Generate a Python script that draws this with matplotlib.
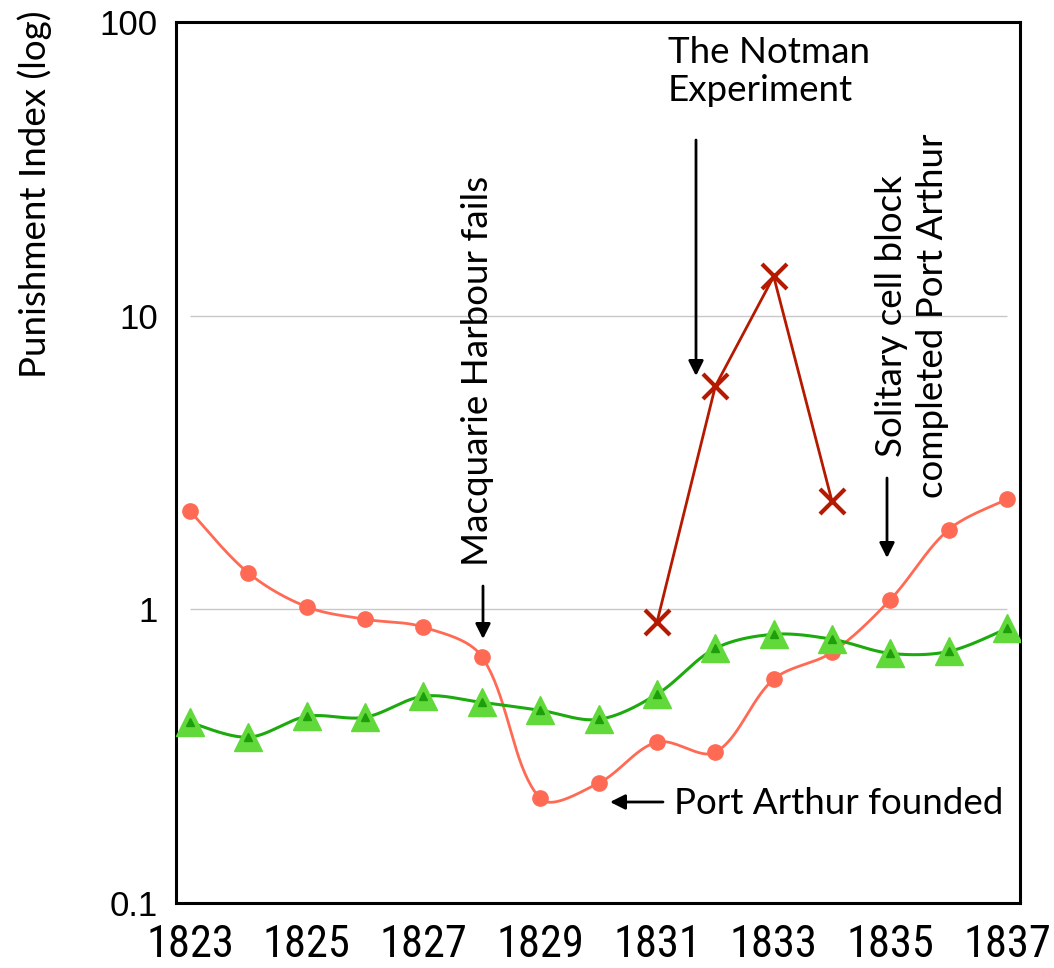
import numpy as np
import matplotlib
matplotlib.use("Agg")
import matplotlib.pyplot as plt
from matplotlib import font_manager

# ---------------- data ----------------
years = [1823, 1824, 1825, 1826, 1827, 1828, 1829, 1830, 1831, 1832, 1833, 1834, 1835, 1836, 1837]
orange_vals = [2.16, 1.33, 1.02, 0.925, 0.87, 0.69, 0.227, 0.256, 0.353, 0.326, 0.578, 0.714, 1.08, 1.87, 2.37]
green_vals = [0.412, 0.367, 0.432, 0.429, 0.506, 0.482, 0.453, 0.422, 0.514, 0.736, 0.822, 0.791, 0.708, 0.719, 0.861]
notman_years = [1831, 1832, 1833, 1834]
notman_vals = [0.903, 5.75, 13.6, 2.33]
xtick_years = [1823, 1825, 1827, 1829, 1831, 1833, 1835, 1837]
ytick_vals = [0.1, 1, 10, 100]
ytick_labels = ["0.1", "1", "10", "100"]
grid_vals = [1, 10]

ORANGE = "#FF6A55"
GREEN_LINE = "#1DAA0E"
GREEN_FILL = "#62D93B"
GREEN_INNER = "#1E9E0B"
RED = "#B51A00"

ANN_FONT = ["Lato", "DejaVu Sans"]
YTICK_FONT = ["Liberation Sans", "DejaVu Sans"]


def has_font(name):
    try:
        font_manager.findfont(font_manager.FontProperties(family=name),
                              fallback_to_default=False)
        return True
    except Exception:
        return False


if has_font("Liberation Sans Narrow"):
    XTICK_FONT, XTICK_SIZE = ["Liberation Sans Narrow", "DejaVu Sans"], 32
elif has_font("Roboto Condensed"):
    XTICK_FONT, XTICK_SIZE = ["Roboto Condensed", "DejaVu Sans"], 32
else:
    XTICK_FONT, XTICK_SIZE = ["Liberation Sans", "DejaVu Sans"], 26.5

PX_PER_YEAR = 58.36
PX_PER_DECADE = 293.67


def smooth(xs, ys, n=40):
    """Excel-like smoothed line (Bezier with chord-length scaled control points),
    computed in screen-proportional space; rendering only."""
    P = np.column_stack([np.asarray(xs, float) * PX_PER_YEAR,
                         np.log10(np.asarray(ys, float)) * PX_PER_DECADE])
    N = len(P)
    cin = P.copy()
    cout = P.copy()
    for i in range(N):
        if i == 0:
            cout[i] = P[0] + (P[1] - P[0]) / 6.0
        elif i == N - 1:
            cin[i] = P[-1] - (P[-1] - P[-2]) / 6.0
        else:
            d = P[i + 1] - P[i - 1]
            ll = np.hypot(*(P[i] - P[i - 1]))
            lr = np.hypot(*(P[i + 1] - P[i]))
            cout[i] = P[i] + d / 3.0 * lr / (ll + lr)
            cin[i] = P[i] - d / 3.0 * ll / (ll + lr)
    pts = []
    for i in range(N - 1):
        t = np.linspace(0, 1, n, endpoint=(i == N - 2))[:, None]
        b = ((1 - t) ** 3 * P[i] + 3 * (1 - t) ** 2 * t * cout[i]
             + 3 * (1 - t) * t ** 2 * cin[i + 1] + t ** 3 * P[i + 1])
        pts.append(b)
    pts = np.vstack(pts)
    return pts[:, 0] / PX_PER_YEAR, 10 ** (pts[:, 1] / PX_PER_DECADE)


W, H = 1054, 968
fig = plt.figure(figsize=(W / 100, H / 100), dpi=100)
L, R, T, B = 176, 1020, 22, 903
ax = fig.add_axes([L / W, 1 - B / H, (R - L) / W, (B - T) / H])
ax.set_yscale("log")
ax.set_xlim(1822.76, 1837.22)
ax.set_ylim(0.1, 100)

# gridlines
ax.hlines(grid_vals, years[0], years[-1], colors="#c8c8c8", linewidth=1.0, zorder=1)

# orange series
sx, sy = smooth(years, orange_vals)
ax.plot(sx, sy, color=ORANGE, linewidth=2.0, zorder=3)
ax.plot(years, orange_vals, linestyle="none", marker="o", markersize=11,
        markerfacecolor=ORANGE, markeredgecolor=ORANGE, zorder=4)

# green series
gx, gy = smooth(years, green_vals)
ax.plot(gx, gy, color=GREEN_LINE, linewidth=2.2, zorder=3)
ax.plot(years, green_vals, linestyle="none", marker="^", markersize=19.5,
        markerfacecolor=GREEN_FILL, markeredgecolor=GREEN_FILL, zorder=5)
ax.plot(years, green_vals, linestyle="none", marker="^", markersize=6,
        markerfacecolor=GREEN_INNER, markeredgecolor=GREEN_INNER, zorder=6)

# Notman series
ax.plot(notman_years, notman_vals, color=RED, linewidth=2.0, marker="x",
        markersize=18, markeredgewidth=3.0, zorder=5)

# axes styling
for s in ax.spines.values():
    s.set_linewidth(2.2)
    s.set_color("black")
ax.set_xticks(xtick_years)
ax.set_xticklabels([str(y) for y in xtick_years])
ax.set_yticks(ytick_vals)
ax.set_yticklabels(ytick_labels)
ax.yaxis.set_minor_locator(matplotlib.ticker.NullLocator())
ax.tick_params(axis="both", length=0)
ax.tick_params(axis="x", pad=15)
ax.tick_params(axis="y", pad=13)
for lab in ax.get_xticklabels():
    lab.set_fontfamily(XTICK_FONT)
    lab.set_fontsize(XTICK_SIZE)
for lab in ax.get_yticklabels():
    lab.set_fontfamily(YTICK_FONT)
    lab.set_fontsize(25)


def px(x, y):
    return (x / W, 1 - y / H)


fig.text(*px(35, 194), "Punishment Index (log)", rotation=90, ha="center", va="center",
         fontsize=26.5, family=ANN_FONT)

# annotations
arrow_kw = dict(arrowstyle="-|>,head_length=0.9,head_width=0.45", color="black", lw=2.0,
                shrinkA=0, shrinkB=0)


def arrow(x0, y0, x1, y1):
    ax.annotate("", xy=px(x1, y1), xycoords="figure fraction",
                xytext=px(x0, y0), textcoords="figure fraction", arrowprops=arrow_kw)


arrow(483, 586, 483, 639)
arrow(696, 140, 696, 376)
arrow(887, 478, 887, 558)
arrow(663, 802, 610, 802)

AFS = 26.5
fig.text(*px(478, 371), "Macquarie Harbour fails", rotation=90, ha="center", va="center",
         fontsize=AFS, family=ANN_FONT)
fig.text(*px(912, 316), "Solitary cell block\ncompleted Port Arthur", rotation=90,
         ha="center", va="center", multialignment="center", fontsize=AFS,
         family=ANN_FONT, linespacing=1.3)
fig.text(*px(668, 36), "The Notman\nExperiment", ha="left", va="top", fontsize=AFS,
         family=ANN_FONT, linespacing=1.2)
fig.text(*px(674, 803), "Port Arthur founded", ha="left", va="center", fontsize=AFS,
         family=ANN_FONT)

fig.savefig("out.png", dpi=100)
